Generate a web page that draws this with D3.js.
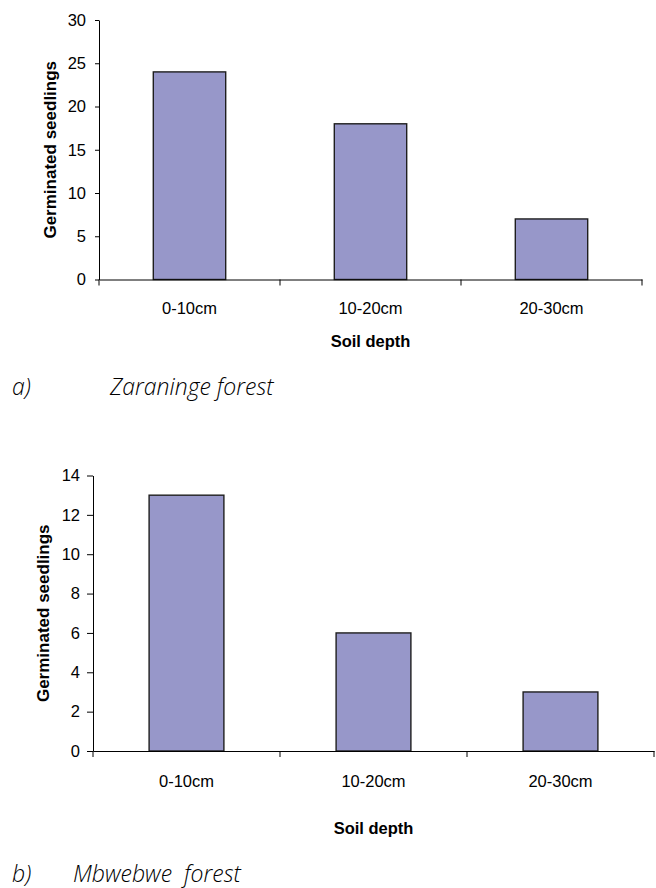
<!DOCTYPE html>
<html><head><meta charset="utf-8">
<script src="https://cdn.jsdelivr.net/npm/d3@7"></script>
<style>
body{margin:0;background:#fff;}
svg text{font-family:"Liberation Sans",Arial,sans-serif;fill:#000;}
svg text.cap{font-family:"Open Sans","Liberation Sans",sans-serif;font-style:italic;font-weight:300;font-size:23px;white-space:pre;fill:#000;}
</style></head><body>
<svg id="c" width="656" height="888"></svg>
<script>
const categories = ["0-10cm","10-20cm","20-30cm"];
const zaraningeValues = [24,18,7];
const mbwebweValues = [13,6,3];
const zaraningeTicks = [0,5,10,15,20,25,30];
const mbwebweTicks = [0,2,4,6,8,10,12,14];
const yTitle = "Germinated seedlings";
const xTitle = "Soil depth";
const captions = [["a)","Zaraninge forest"],["b)","Mbwebwe  forest"]];

const svg = d3.select("#c");

function chart(cfg){
  const g = svg.append("g");
  const x = d3.scaleBand().domain(categories).range([cfg.x0,cfg.x1]).paddingInner(0.6).paddingOuter(0.3);
  const y = d3.scaleLinear().domain([0,cfg.max]).range([cfg.y0,cfg.y1]);
  g.selectAll("rect").data(cfg.values).join("rect")
    .attr("x",(d,i)=>x(categories[i]))
    .attr("width",x.bandwidth())
    .attr("y",d=>y(d))
    .attr("height",d=>y(0)-y(d))
    .attr("fill","#9797c9").attr("stroke","#1e1e1e").attr("stroke-width",1.4);
  const ya = g.append("g").attr("transform",`translate(${cfg.x0},0)`)
    .call(d3.axisLeft(y).tickValues(cfg.ticks).tickSize(cfg.tickL).tickSizeOuter(0).tickPadding(cfg.pad));
  ya.selectAll("text").style("font-size","16.5px").attr("font-family",null);
  ya.select(".domain").attr("stroke","#000");
  const xa = g.append("g").attr("transform",`translate(0,${cfg.y0})`)
    .call(d3.axisBottom(x).tickSize(0).tickSizeOuter(0).tickPadding(cfg.xpad));
  xa.selectAll("text").style("font-size","16.5px").attr("font-family",null);
  xa.select(".domain").attr("stroke","#000");
  const bounds = categories.map(c=>x(c)-x.step()*x.paddingInner()/2).concat([cfg.x1]);
  bounds[0]=cfg.x0;
  g.selectAll("line.bt").data(bounds).join("line").attr("class","bt")
    .attr("x1",d=>d).attr("x2",d=>d).attr("y1",cfg.y0).attr("y2",cfg.y0+6)
    .attr("stroke","#000");
  g.append("text").attr("transform",`translate(${cfg.ytx},${(cfg.y0+cfg.y1)/2}) rotate(-90)`)
    .attr("text-anchor","middle").style("font-size","17px").style("font-weight","bold").text(yTitle);
  g.append("text").attr("x",(cfg.x0+cfg.x1)/2).attr("y",cfg.xty)
    .attr("text-anchor","middle").style("font-size","16.5px").style("font-weight","bold").text(xTitle);
  g.append("text").attr("class","cap").attr("x",12).attr("y",cfg.capy).text(cfg.cap[0]);
  g.append("text").attr("class","cap").attr("x",cfg.capx).attr("y",cfg.capy).text(cfg.cap[1]);
}

chart({x0:99,x1:642,y0:279.5,y1:20,max:30,values:zaraningeValues,ticks:zaraningeTicks,
  tickL:4,pad:9,xpad:23,ytx:56,xty:347,cap:captions[0],capx:110,capy:395});
chart({x0:93,x1:654,y0:751,y1:475.5,max:14,values:mbwebweValues,ticks:mbwebweTicks,
  tickL:6,pad:7,xpad:24,ytx:49,xty:834,cap:captions[1],capx:73,capy:882});
</script></body></html>
